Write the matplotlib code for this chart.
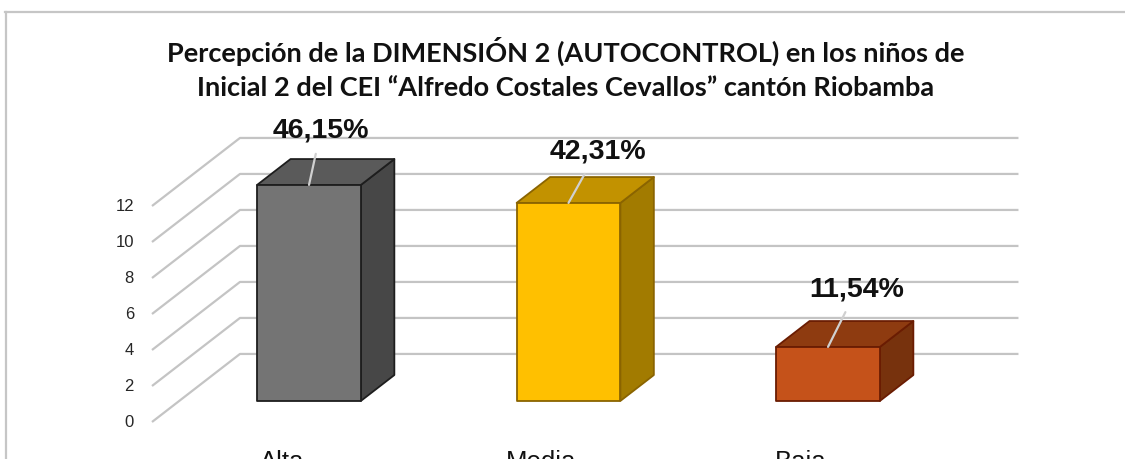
"""3D-style bar chart: Percepción de la DIMENSIÓN 2 (AUTOCONTROL)."""

import matplotlib
matplotlib.use('Agg')
import matplotlib.pyplot as plt
from matplotlib.patches import Polygon
from matplotlib.lines import Line2D

# ── data ────────────────────────────────────────────────────────────────
categories = ['Alta', 'Media', 'Baja']
counts = [12, 11, 3]
pct_labels = ['46,15%', '42,31%', '11,54%']
y_ticks = [0, 2, 4, 6, 8, 10, 12]
title = ('Percepción de la DIMENSIÓN 2 (AUTOCONTROL) en los niños de\n'
         'Inicial 2 del CEI “Alfredo Costales Cevallos” cantón Riobamba')

# ── style ───────────────────────────────────────────────────────────────
FRONT = ['#747474', '#FFC000', '#C5521A']
TOP = ['#5a5a5a', '#C29200', '#8E3B10']
SIDE = ['#474747', '#A27B00', '#77320D']
EDGE = ['#1e1e1e', '#8a6400', '#6a1c02']
GRID = '#c4c4c4'

DEPTH_DX, DEPTH_DY = 0.339, 3.78   # floor depth in (category, value) units
BAR_F0, BAR_F1 = 0.31, 0.69        # bar front/back as fraction of depth
BAR_W = 0.40
LABEL_OFF = [(12, 55), (29, 52), (29, 58)]   # pixel offset of % labels


def P(x, v, d):
    return (x + d * DEPTH_DX, v + d * DEPTH_DY)


def main():
    fig = plt.figure(figsize=(11.25, 4.6), dpi=100)
    ax = fig.add_axes([0, 0, 1, 1])
    ax.set_xlim(-1.0857, 3.2495)
    ax.set_ylim(-2.056, 23.5)
    ax.axis('off')

    n = len(categories)
    x0, x1 = -0.5, n - 0.5

    # perspective gridlines: side wall diagonal + back wall horizontal
    for v in y_ticks:
        a, b = P(x0, v, 0), P(x0, v, 1)
        c = P(x1, v, 1)
        ax.plot([a[0], b[0], c[0]], [a[1], b[1], c[1]], color=GRID,
                lw=1.6, zorder=1, solid_capstyle='butt')
        ax.annotate(str(v), xy=a, xytext=(-18, 0), textcoords='offset pixels',
                    ha='right', va='center', fontsize=12,
                    family='Liberation Sans', color='#262626')

    # bars
    for i, v in enumerate(counts):
        xl, xr = i - BAR_W / 2, i + BAR_W / 2
        faces = [
            ([P(xr, 0, BAR_F0), P(xr, 0, BAR_F1), P(xr, v, BAR_F1),
              P(xr, v, BAR_F0)], SIDE[i]),
            ([P(xl, v, BAR_F0), P(xr, v, BAR_F0), P(xr, v, BAR_F1),
              P(xl, v, BAR_F1)], TOP[i]),
            ([P(xl, 0, BAR_F0), P(xr, 0, BAR_F0), P(xr, v, BAR_F0),
              P(xl, v, BAR_F0)], FRONT[i]),
        ]
        for pts, col in faces:
            ax.add_patch(Polygon(pts, closed=True, facecolor=col,
                                 edgecolor=EDGE[i], lw=1.3, zorder=3,
                                 joinstyle='round'))

        top_mid = P(i, v, BAR_F0)
        ax.annotate(pct_labels[i], xy=top_mid, xytext=LABEL_OFF[i],
                    textcoords='offset pixels', ha='center', va='center',
                    fontsize=20.5, fontweight='bold', family='Liberation Sans',
                    color='#111111', zorder=5,
                    arrowprops=dict(arrowstyle='-', color='#d0d0d0', lw=1.6,
                                    shrinkA=6, shrinkB=0))

        # category label on the front edge of the floor (cut by the crop)
        ax.annotate(categories[i], xy=P(i, 0, 0), xytext=(0, -46),
                    textcoords='offset pixels', ha='center', va='baseline',
                    fontsize=18.5, family='Liberation Sans', color='#111111')

    fig.text(0.503, 0.852, title, ha='center', va='center', fontsize=19.5,
             fontweight='bold', family='Lato', linespacing=1.5,
             color='#111111')

    # outer chart frame (cropped)
    fig.add_artist(Line2D([5 / 1125, 1], [1 - 13 / 460] * 2,
                          transform=fig.transFigure, color='#c6c6c6', lw=1.6))
    fig.add_artist(Line2D([6 / 1125] * 2, [0, 1 - 13 / 460],
                          transform=fig.transFigure, color='#c6c6c6', lw=1.6))

    fig.savefig('out.png', dpi=100)


if __name__ == '__main__':
    main()
